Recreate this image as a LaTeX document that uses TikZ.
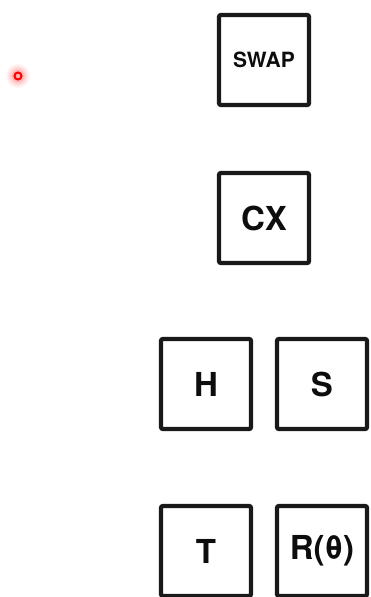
\documentclass[tikz,border=0pt]{standalone}
\usepackage{fontspec}
\setmainfont{TeX Gyre Heros}
\begin{document}
\begin{tikzpicture}[x=1pt,y=-1pt,
  gate/.style={draw=black!90, line width=4.3pt, rounded corners=2pt,
    minimum width=90pt, minimum height=90pt, inner sep=0pt,
    font=\fontsize{33}{33}\selectfont\bfseries, text=black!95},
  smallgate/.style={gate, font=\fontsize{21}{21}\selectfont\bfseries}]
\useasboundingbox (0,0) rectangle (370,597);
% gates
\node[smallgate] (swap) at (264,60) {SWAP};
\node[gate] (cx) at (264,218) {CX};
\node[gate] (h) at (206,384) {H};
\node[gate] (s) at (322,384) {S};
\node[gate] (t) at (206,551) {T};
\node[gate] (r) at (322,551) {R(θ)};
% marker dot with a soft halo
\foreach \rr/\op in {12/0.05,10/0.07,8/0.09,6/0.12}
  \fill[red,opacity=\op] (18,76) circle (\rr);
\node[circle, draw=red, line width=2pt, minimum size=7pt, inner sep=0pt] (dot) at (18,76) {};
\end{tikzpicture}
\end{document}
